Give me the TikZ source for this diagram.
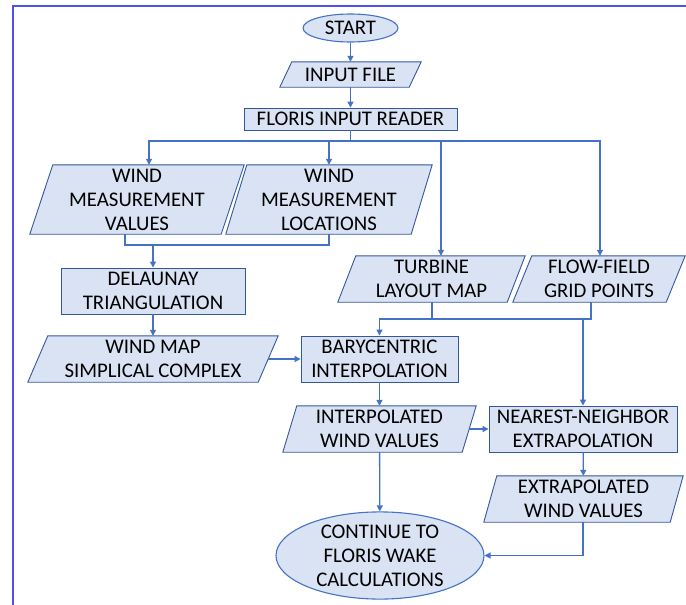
\documentclass[tikz,border=0pt]{standalone}
\usepackage{fontspec}
\setmainfont{Carlito}
\usetikzlibrary{shapes.geometric,arrows.meta,backgrounds}
\definecolor{boxfill}{HTML}{DAE3F3}
\definecolor{boxline}{HTML}{34589A}
\definecolor{conline}{HTML}{4472C4}
\definecolor{framecol}{HTML}{5050F0}
\newcommand\pgram[2]{%
  \begin{scope}[on background layer]
    \draw[boxline, line width=0.9pt, fill=boxfill, line join=miter]
      ([xshift=#2pt]#1.north west) -- (#1.north east) --
      ([xshift=-#2pt]#1.south east) -- (#1.south west) -- cycle;
  \end{scope}}
\begin{document}
\begin{tikzpicture}[x=1pt, y=-1pt,
  txt/.style={inner sep=0pt, align=center, text=black,
    font=\fontsize{20.8}{24}\selectfont},
  pbox/.style={txt, draw=none, minimum width=#1},
  rbox/.style={txt, draw=boxline, line width=0.9pt, fill=boxfill},
  obox/.style={txt, ellipse, draw=conline, line width=1.1pt, fill=boxfill},
  con/.style={conline, line width=1.3pt},
  arr/.style={con, -{Triangle[width=6pt,length=6pt]}}]
\useasboundingbox (0,0) rectangle (686,605);
\draw[framecol, line width=2pt] (686,5.5) -- (13,5.5) -- (13,605);

% nodes
\node[obox, minimum width=95, minimum height=28] (start) at (350.5,28) {START};
\node[pbox=141, minimum height=25] (inp) at (350.5,74.5) {INPUT FILE};
\node[rbox, minimum width=213, minimum height=22] (fr) at (350.5,119) {FLORIS INPUT READER};
\node[pbox=214, minimum height=69] (wmv) at (137,199.5) {WIND\\MEASUREMENT\\VALUES};
\node[pbox=206, minimum height=69] (wml) at (329,199.5) {WIND\\MEASUREMENT\\LOCATIONS};
\node[pbox=187, minimum height=46] (tur) at (431.5,279) {TURBINE\\LAYOUT MAP};
\node[pbox=172, minimum height=46] (flow) at (599,279) {FLOW-FIELD\\GRID POINTS};
\node[rbox, minimum width=184, minimum height=46] (del) at (153,291) {DELAUNAY\\TRIANGULATION};
\node[pbox=250, minimum height=46] (wm) at (153,359) {WIND MAP\\SIMPLICAL COMPLEX};
\node[rbox, minimum width=157, minimum height=46] (bary) at (379.5,359) {BARYCENTRIC\\INTERPOLATION};
\node[pbox=193, minimum height=46] (interp) at (379.5,429) {INTERPOLATED\\WIND VALUES};
\node[rbox, minimum width=188, minimum height=46] (near) at (583,429) {NEAREST-NEIGHBOR\\EXTRAPOLATION};
\node[pbox=199, minimum height=46] (extra) at (583.5,499) {EXTRAPOLATED\\WIND VALUES};
\node[obox, minimum width=208, minimum height=81] (cont) at (380,555.5) {CONTINUE TO\\FLORIS WAKE\\CALCULATIONS};

\pgram{inp}{12}
\pgram{wmv}{23}
\pgram{wml}{21}
\pgram{tur}{18}
\pgram{flow}{19}
\pgram{wm}{20}
\pgram{interp}{14}
\pgram{extra}{13}

% junction coordinates
\coordinate (j1) at (350.5,141);
\coordinate (j2) at (153,245);
\coordinate (j3) at (583,319);

% connectors
\draw[arr] (start) -- (inp);
\draw[arr] (inp) -- (fr);
\draw[con] (fr.south) -- (j1);
\draw[arr] (j1) -| ([xshift=12pt]wmv.north);
\draw[arr] (j1) -| (wml.north);
\draw[arr] (j1) -| ([xshift=9.5pt]tur.north);
\draw[arr] (j1) -| ([xshift=1pt]flow.north);
\draw[con] ([xshift=-12pt]wmv.south) |- (j2);
\draw[con] (wml.south) |- (j2);
\draw[arr] (j2) -- (del.north);
\draw[arr] (del) -- (wm);
\draw[arr] ([xshift=-10pt]wm.east) -- (bary.west);
\draw[con] ([xshift=0.5pt]tur.south) |- (j3);
\draw[con] ([xshift=-8pt]flow.south) |- (j3);
\draw[arr] (j3) -| (bary.north);
\draw[arr] (j3) -- (near.north);
\draw[arr] (bary) -- (interp);
\draw[arr] ([xshift=-7pt]interp.east) -- (near.west);
\draw[arr] (interp) -- (cont);
\draw[arr] (near) -- (extra);
\draw[arr] ([xshift=-0.5pt]extra.south) |- (cont.east);
\end{tikzpicture}
\end{document}
